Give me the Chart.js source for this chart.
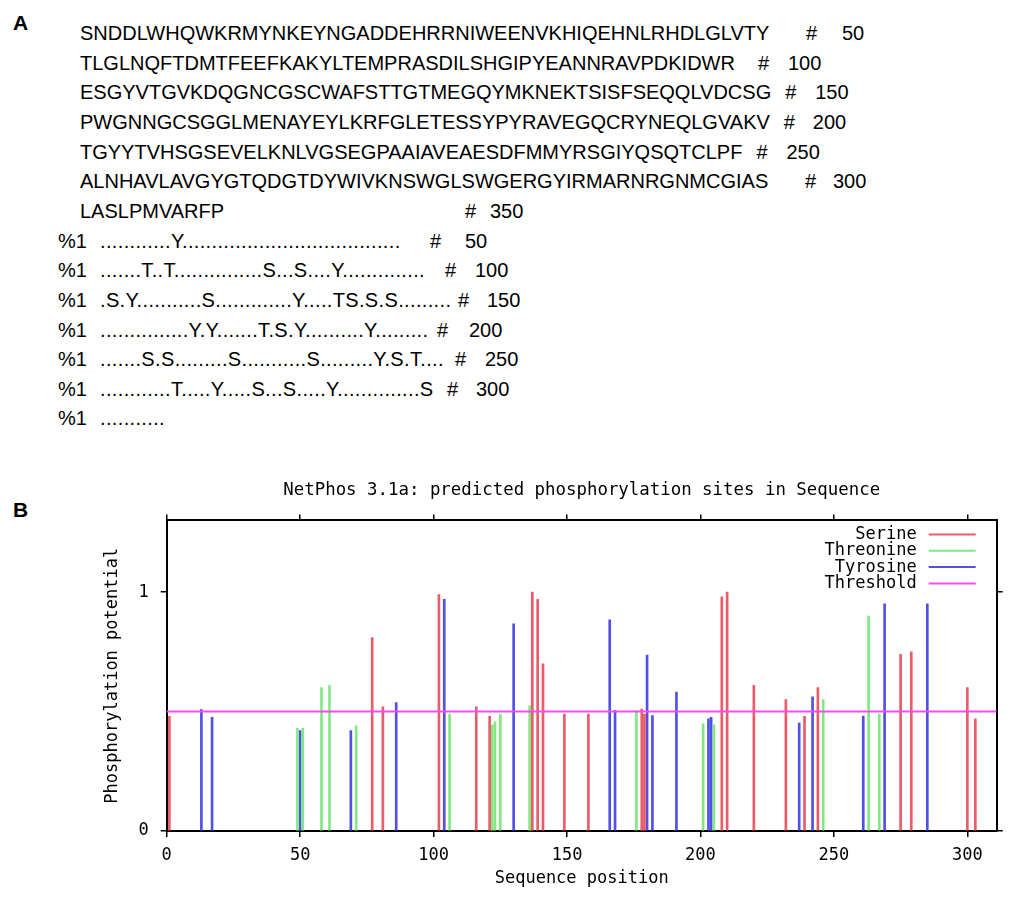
<!DOCTYPE html>
<html>
<head>
<meta charset="utf-8">
<script src="https://cdn.jsdelivr.net/npm/chart.js@4.4.0/dist/chart.umd.min.js"></script>
<style>
  html, body { margin: 0; padding: 0; background: #fff; width: 1013px; height: 899px; overflow: hidden; }
  body { position: relative; }
  .t { position: absolute; font: 20px "Liberation Sans", Arial, sans-serif; line-height: 20px; white-space: pre; color: #000; }
  .panel { position: absolute; font: bold 21px "Liberation Sans", Arial, sans-serif; line-height: 20px; color: #000; }
  #wrap { position: absolute; left: 0; top: 470px; width: 1013px; height: 429px; }
</style>
</head>
<body>
<div class="panel" style="left:13px;top:13px">A</div>
<div class="panel" style="left:13px;top:500px">B</div>
<div id="seq"></div>
<div id="wrap"><canvas id="phosChart"></canvas></div>

<script>
// panel A text
const seqLines = [
  "SNDDLWHQWKRMYNKEYNGADDEHRRNIWEENVKHIQEHNLRHDLGLVTY",
  "TLGLNQFTDMTFEEFKAKYLTEMPRASDILSHGIPYEANNRAVPDKIDWR",
  "ESGYVTGVKDQGNCGSCWAFSTTGTMEGQYMKNEKTSISFSEQQLVDCSG",
  "PWGNNGCSGGLMENAYEYLKRFGLETESSYPYRAVEGQCRYNEQLGVAKV",
  "TGYYTVHSGSEVELKNLVGSEGPAAIAVEAESDFMMYRSGIYQSQTCLPF",
  "ALNHAVLAVGYGTQDGTDYWIVKNSWGLSWGERGYIRMARNRGNMCGIAS",
  "LASLPMVARFP"
];
const seqEnds = ["50", "100", "150", "200", "250", "300", "350"];
const seqHashX = [806, 758, 782, 779, 750, 805, 465];
const seqNumX = [842, 788, 812, 808, 780, 833, 490];

const markLines = [
  "............Y.....................................",
  ".......T..T...............S...S....Y..............",
  ".S.Y...........S.............Y.....TS.S.S.........",
  "...............Y.Y.......T.S.Y..........Y.........",
  ".......S.S.........S...........S.........Y.S.T....",
  "............T.....Y.....S...S.....Y..............S",
  "..........."
];
const markEnds = ["50", "100", "150", "200", "250", "300", ""];
const markHashX = [430, 445, 458, 437, 455, 447, 0];
const markNumX = [465, 475, 487, 469, 485, 476, 0];

// panel B data: position and phosphorylation potential
const serinePos = [1, 77, 81, 102, 116, 121, 137, 139, 141, 149, 158, 178, 179, 208, 210, 220, 232, 239, 244, 275, 279, 300, 303];
const serineVal = [0.48, 0.81, 0.52, 0.99, 0.52, 0.48, 1.0, 0.97, 0.70, 0.49, 0.49, 0.51, 0.49, 0.98, 1.0, 0.61, 0.55, 0.48, 0.60, 0.74, 0.75, 0.60, 0.47];

const threoninePos = [49, 51, 58, 61, 71, 106, 122, 123, 125, 136, 176, 201, 205, 246, 263, 267];
const threonineVal = [0.43, 0.43, 0.60, 0.61, 0.44, 0.49, 0.445, 0.457, 0.49, 0.525, 0.505, 0.45, 0.445, 0.55, 0.90, 0.49];

const tyrosinePos = [13, 17, 50, 69, 86, 104, 130, 166, 168, 180, 182, 191, 203, 204, 237, 242, 261, 269, 285];
const tyrosineVal = [0.508, 0.476, 0.42, 0.42, 0.538, 0.97, 0.867, 0.884, 0.505, 0.736, 0.483, 0.582, 0.47, 0.476, 0.452, 0.562, 0.481, 0.951, 0.951];

const threshold = 0.5;
const seqLength = 311;
const xTickStep = 50;
const yTickStep = 1;
const legendOrder = ["Serine", "Threonine", "Tyrosine", "Threshold"];

const holder = document.getElementById("seq");
function addText(txt, x, y, extra) {
  const d = document.createElement("div");
  d.className = "t";
  d.textContent = txt;
  d.style.left = x + "px";
  d.style.top = y + "px";
  if (extra) d.style.letterSpacing = extra;
  holder.appendChild(d);
  return d;
}

const rowH = 29.65;
seqLines.forEach((line, i) => {
  const top = 23 + i * rowH;
  const d = addText(line, 80, top);
  // keep a small gap after the sequence if the font runs wider than the original
  const end = 80 + d.getBoundingClientRect().width;
  const shift = Math.max(0, end + 14 - seqHashX[i]);
  addText("#", seqHashX[i] + shift, top);
  addText(seqEnds[i], seqNumX[i] + shift, top);
});
markLines.forEach((line, i) => {
  const top = 23 + (i + 7) * rowH;
  addText("%1", 58, top);
  addText(line, 100, top, "0.35px");
  if (markEnds[i]) {
    addText("#", markHashX[i], top);
    addText(markEnds[i], markNumX[i], top);
  }
});

const mono = '"DejaVu Sans Mono", "Liberation Mono", monospace';
Chart.defaults.font.family = mono;
Chart.defaults.font.size = 17;
Chart.defaults.color = "#000";

const colors = { Serine: "#ec5c68", Threonine: "#82e882", Tyrosine: "#5050e8", Threshold: "#f64af6" };

function bars(label, pos, val) {
  return {
    label: label,
    data: pos.map((p, i) => ({ x: p, y: val[i] })),
    backgroundColor: colors[label],
    borderWidth: 0,
    barThickness: 2,
    grouped: false,
    order: 1,
  };
}

// legend drawn inside the plot, text on the left of the line sample
const insideLegend = {
  id: "insideLegend",
  afterDraw(chart) {
    const { ctx, chartArea } = chart;
    ctx.save();
    ctx.font = "17px " + mono;
    ctx.textAlign = "right";
    ctx.textBaseline = "middle";
    legendOrder.forEach((name, i) => {
      const ds = chart.data.datasets.find((d) => d.label === name);
      const y = chartArea.top + 14 + i * 16.3;
      const xr = chartArea.right - 80;
      ctx.fillStyle = "#000";
      ctx.fillText(name, xr, y);
      ctx.strokeStyle = ds.borderColor || ds.backgroundColor;
      ctx.lineWidth = 2;
      ctx.beginPath();
      ctx.moveTo(xr + 12, y);
      ctx.lineTo(xr + 59, y);
      ctx.stroke();
    });
    ctx.restore();
  },
};

const axisBorder = { color: "#000", width: 2 };
const tickGrid = { drawOnChartArea: false, tickLength: 6, color: "#000", lineWidth: 1.5 };

new Chart(document.getElementById("phosChart"), {
  type: "bar",
  data: {
    datasets: [
      {
        type: "line",
        label: "Threshold",
        data: [{ x: 0, y: threshold }, { x: seqLength, y: threshold }],
        borderColor: colors.Threshold,
        borderWidth: 2,
        pointRadius: 0,
        order: 0,
      },
      bars("Serine", serinePos, serineVal),
      bars("Threonine", threoninePos, threonineVal),
      bars("Tyrosine", tyrosinePos, tyrosineVal),
    ],
  },
  options: {
    responsive: true,
    maintainAspectRatio: false,
    animation: false,
    layout: { padding: 0 },
    plugins: {
      legend: { display: false },
      tooltip: { enabled: false },
      title: {
        display: true,
        text: "NetPhos 3.1a: predicted phosphorylation sites in Sequence",
        fullSize: false,
        font: { size: 17.4, weight: "normal" },
        color: "#000",
        padding: { top: 10, bottom: 9.6 },
      },
    },
    scales: {
      x: {
        type: "linear",
        position: "bottom",
        min: 0,
        max: seqLength,
        offset: false,
        grid: { ...tickGrid, offset: false },
        border: axisBorder,
        ticks: { stepSize: xTickStep, includeBounds: false, padding: 8, maxRotation: 0 },
        title: { display: true, text: "Sequence position", padding: { top: 0, bottom: 10 } },
        afterFit: (s) => { s.height = 68; },
      },
      x2: {
        type: "linear",
        axis: "x",
        position: "top",
        min: 0,
        max: seqLength,
        offset: false,
        grid: { ...tickGrid, offset: false },
        border: axisBorder,
        ticks: { stepSize: xTickStep, includeBounds: false, display: false },
        afterFit: (s) => { s.height = 10; },
      },
      y: {
        type: "linear",
        min: 0,
        max: 1.3,
        grid: tickGrid,
        border: axisBorder,
        ticks: { stepSize: yTickStep, includeBounds: false, padding: 12 },
        title: { display: true, text: "Phosphorylation potential", padding: { top: 102, bottom: 0 } },
        afterFit: (s) => { s.width = 166.7; },
      },
      y2: {
        type: "linear",
        axis: "y",
        position: "right",
        min: 0,
        max: 1.3,
        grid: tickGrid,
        border: axisBorder,
        ticks: { stepSize: yTickStep, includeBounds: false, display: false },
        afterFit: (s) => { s.width = 16.3; },
      },
    },
  },
  plugins: [insideLegend],
});
</script>
</body>
</html>
